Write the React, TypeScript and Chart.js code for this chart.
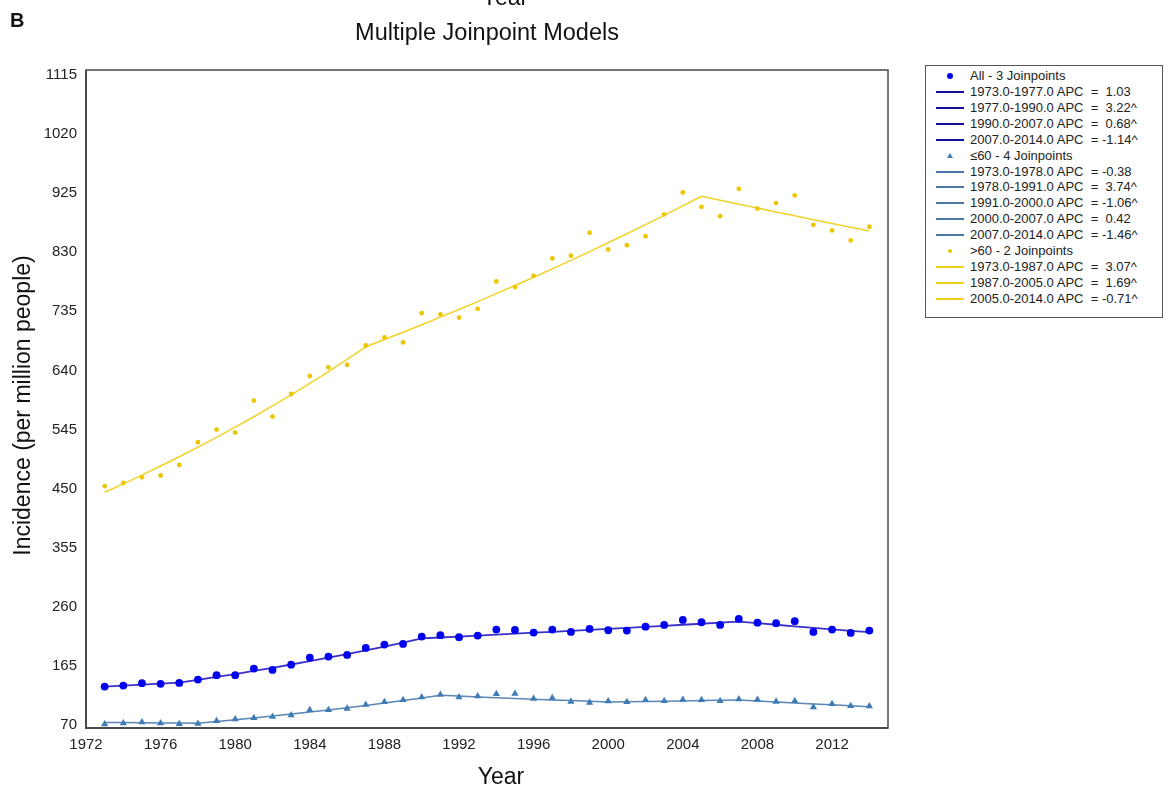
import React, { useEffect, useRef } from "react";
import { Chart, registerables } from "chart.js";

Chart.register(...registerables);

// ---------- data ----------
const years = [
  1973, 1974, 1975, 1976, 1977, 1978, 1979, 1980, 1981, 1982, 1983, 1984, 1985, 1986,
  1987, 1988, 1989, 1990, 1991, 1992, 1993, 1994, 1995, 1996, 1997, 1998, 1999, 2000,
  2001, 2002, 2003, 2004, 2005, 2006, 2007, 2008, 2009, 2010, 2011, 2012, 2013, 2014,
];

// observed incidence (per million)
const allObserved = [
  131.6, 133.2, 137.0, 136.0, 137.5, 142.8, 149.9, 149.9, 160.5, 158.4, 166.9, 178.2, 179.8, 182.5,
  193.8, 199.1, 200.2, 212.0, 214.2, 211.0, 213.6, 223.3, 222.7, 218.4, 223.3, 219.5, 224.3, 222.2,
  221.6, 228.0, 230.8, 238.8, 235.0, 230.8, 240.4, 234.4, 233.5, 236.7, 219.5, 223.3, 217.9, 221.6,
];
const le60Observed = [
  71.1, 72.7, 74.3, 72.7, 71.6, 72.1, 76.4, 79.1, 81.3, 83.3, 85.6, 94.1, 94.1, 96.3,
  102.6, 107.0, 110.2, 114.5, 118.7, 114.5, 116.1, 119.8, 120.3, 112.3, 113.4, 107.5, 105.9, 108.1,
  107.0, 110.2, 108.6, 110.7, 110.2, 108.6, 111.3, 110.7, 107.5, 108.6, 98.5, 103.8, 100.5, 100.0,
];
const gt60Observed = [
  454, 459, 468, 471, 488, 524.5, 544.8, 540, 591.4, 565.7, 602, 631, 645, 649,
  680, 693, 685, 732, 730, 725, 739, 783, 774, 792, 820, 824.5, 861.5, 834.5,
  841.3, 855.7, 891, 926, 903, 888, 932, 900, 909, 921.5, 874, 865, 849, 871,
];

// fitted joinpoint model values (per year)
const allFit = [
  131.5, 133.1, 134.7, 136.3, 138.0, 142.5, 147.1, 151.8, 156.8, 161.8, 167.1, 172.5, 178.1, 183.9,
  189.9, 196.0, 202.4, 209.0, 210.5, 212.0, 213.5, 215.1, 216.6, 218.2, 219.7, 221.3, 222.9, 224.5,
  226.1, 227.7, 229.3, 231.0, 232.6, 234.3, 236.0, 233.5, 231.0, 228.5, 226.1, 223.7, 221.3, 219.0,
];
const le60Fit = [
  74.0, 73.7, 73.4, 73.2, 72.9, 72.6, 75.3, 78.2, 81.1, 84.2, 87.4, 90.7, 94.1, 97.6,
  101.3, 105.1, 109.1, 113.2, 117.5, 116.3, 115.0, 113.8, 112.6, 111.4, 110.2, 109.1, 107.9, 106.8,
  107.3, 107.7, 108.2, 108.6, 109.1, 109.5, 110.0, 108.4, 106.8, 105.2, 103.7, 102.2, 100.7, 99.2,
];
const gt60Fit = [
  444.0, 457.6, 471.7, 486.2, 501.1, 516.5, 532.3, 548.7, 565.5, 582.9, 600.8, 619.2, 638.2, 657.8,
  678.0, 689.6, 701.4, 713.4, 725.6, 738.0, 750.6, 763.4, 776.5, 789.8, 803.3, 817.0, 831.0, 845.2,
  859.7, 874.4, 889.3, 904.5, 920.0, 913.6, 907.3, 901.0, 894.7, 888.5, 882.3, 876.2, 870.1, 864.0,
];

// joinpoint segments and APC labels
const allSegments = [[1973, 1977], [1977, 1990], [1990, 2007], [2007, 2014]];
const allApc = ["1.03", "3.22^", "0.68^", "-1.14^"];
const le60Segments = [[1973, 1978], [1978, 1991], [1991, 2000], [2000, 2007], [2007, 2014]];
const le60Apc = ["-0.38", "3.74^", "-1.06^", "0.42", "-1.46^"];
const gt60Segments = [[1973, 1987], [1987, 2005], [2005, 2014]];
const gt60Apc = ["3.07^", "1.69^", "-0.71^"];

const groupNames = ["All - 3 Joinpoints", "\u226460 - 4 Joinpoints", ">60 - 2 Joinpoints"];

const xTicks = [1972, 1976, 1980, 1984, 1988, 1992, 1996, 2000, 2004, 2008, 2012];
const yTicks = [70, 165, 260, 355, 450, 545, 640, 735, 830, 925, 1020, 1115];

// ---------- styling ----------
const FONT = '"Liberation Sans", Arial, Helvetica, sans-serif';
const C_ALL_PT = "#0000f0";
const C_ALL_LINE = "#3a30c8";
const C_ALL_LEG = "#101098";
const C_LE_PT = "#3f7cb6";
const C_LE_LINE = "#5a86b4";
const C_LE_LEG = "#4a78aa";
const C_GT_PT = "#ecc600";
const C_GT_LINE = "#f0d22a";
const C_GT_LEG = "#f0cf10";

const segLabel = (s: number[], apc: string) =>
  `${s[0]}.0-${s[1]}.0 APC  = ${apc.startsWith("-") ? "" : " "}${apc}`;

const groups = [
  { name: groupNames[0], obs: allObserved, fit: allFit, segs: allSegments, apc: allApc, pt: C_ALL_PT, line: C_ALL_LINE, leg: C_ALL_LEG, style: "circle", r: 3.9, lw: 1.8 },
  { name: groupNames[1], obs: le60Observed, fit: le60Fit, segs: le60Segments, apc: le60Apc, pt: C_LE_PT, line: C_LE_LINE, leg: C_LE_LEG, style: "triangle", r: 4.2, lw: 1.5 },
  { name: groupNames[2], obs: gt60Observed, fit: gt60Fit, segs: gt60Segments, apc: gt60Apc, pt: C_GT_PT, line: C_GT_LINE, leg: C_GT_LEG, style: "circle", r: 2.4, lw: 1.5 },
];

const framePlugin = {
  id: "frame",
  afterDraw(chart: any) {
    const { ctx, chartArea: a } = chart;
    ctx.save();
    ctx.strokeStyle = "#4a4a4a";
    ctx.lineWidth = 1.5;
    ctx.strokeRect(a.left, a.top, a.right - a.left, a.bottom - a.top);
    ctx.lineWidth = 2;
    ctx.beginPath();
    ctx.moveTo(a.left, a.top);
    ctx.lineTo(a.left, a.bottom);
    ctx.lineTo(a.right, a.bottom);
    ctx.stroke();
    ctx.restore();
  },
};

function Marker({ kind, color }: { kind: string; color: string }) {
  if (kind === "line") {
    return <div style={{ position: "absolute", left: 10, top: 7, width: 28, height: 2, background: color }} />;
  }
  if (kind === "triangle") {
    return (
      <div
        style={{
          position: "absolute", left: 21, top: 5, width: 0, height: 0,
          borderLeft: "3px solid transparent", borderRight: "3px solid transparent",
          borderBottom: `5px solid ${color}`,
        }}
      />
    );
  }
  const d = kind === "bigdot" ? 6 : 4;
  return (
    <div
      style={{
        position: "absolute", left: 24 - d / 2, top: 8 - d / 2, width: d, height: d,
        borderRadius: "50%", background: color,
      }}
    />
  );
}

export default function App() {
  const ref = useRef<HTMLCanvasElement>(null);

  useEffect(() => {
    if (!ref.current) return;
    const datasets: any[] = [];
    groups.forEach((g) => {
      datasets.push({
        label: g.name,
        data: years.map((y, i) => ({ x: y, y: g.obs[i] })),
        showLine: false,
        pointStyle: g.style,
        pointRadius: g.r,
        pointBackgroundColor: g.pt,
        pointBorderColor: g.pt,
        pointBorderWidth: 0,
        order: 0,
      });
      g.segs.forEach((s, k) => {
        const pts = years
          .map((y, i) => ({ x: y, y: g.fit[i] }))
          .filter((p) => p.x >= s[0] && p.x <= s[1]);
        datasets.push({
          label: segLabel(s, g.apc[k]),
          data: pts,
          showLine: true,
          borderColor: g.line,
          borderWidth: g.lw,
          pointRadius: 0,
          fill: false,
          tension: 0,
          order: 1,
        });
      });
    });

    const chart = new Chart(ref.current, {
      type: "scatter",
      data: { datasets },
      options: {
        animation: false,
        responsive: false,
        events: [],
        layout: { padding: { left: 0, right: 283, top: 70, bottom: 0 }, autoPadding: false },
        plugins: { legend: { display: false }, title: { display: false }, tooltip: { enabled: false } },
        scales: {
          x: {
            type: "linear",
            min: 1972,
            max: 2015,
            grid: { display: false, drawTicks: false },
            border: { display: false },
            afterBuildTicks: (axis: any) => {
              axis.ticks = xTicks.map((v) => ({ value: v }));
            },
            afterFit: (axis: any) => {
              axis.height = 62;
            },
            ticks: {
              padding: 8,
              color: "#222",
              font: { family: FONT, size: 15 },
              maxRotation: 0,
              autoSkip: false,
              callback: (v: any) => String(v),
            },
          },
          y: {
            type: "linear",
            min: 65,
            max: 1123,
            grid: { display: false, drawTicks: false },
            border: { display: false },
            afterBuildTicks: (axis: any) => {
              axis.ticks = yTicks.map((v) => ({ value: v }));
            },
            afterFit: (axis: any) => {
              axis.width = 86;
            },
            ticks: {
              padding: 9,
              color: "#222",
              font: { family: FONT, size: 15 },
              autoSkip: false,
              callback: (v: any) => String(v),
            },
          },
        },
      },
      plugins: [framePlugin],
    });
    return () => chart.destroy();
  }, []);

  const legendRows: { kind: string; color: string; text: string }[] = [];
  groups.forEach((g, gi) => {
    legendRows.push({ kind: gi === 0 ? "bigdot" : gi === 1 ? "triangle" : "dot", color: g.pt, text: g.name });
    g.segs.forEach((s, k) => legendRows.push({ kind: "line", color: g.leg, text: segLabel(s, g.apc[k]) }));
  });

  const textBase: React.CSSProperties = {
    position: "absolute",
    fontFamily: FONT,
    color: "#111",
    whiteSpace: "pre",
    lineHeight: "23px",
  };

  return (
    <div style={{ position: "absolute", left: 0, top: 0, width: 1171, height: 790, background: "#fff", overflow: "hidden" }}>
      <canvas ref={ref} width={1171} height={790} style={{ position: "absolute", left: 0, top: 0 }} />
      <div style={{ ...textBase, left: 10, top: 9, fontSize: 20, fontWeight: "bold", lineHeight: "23px" }}>B</div>
      <div style={{ ...textBase, left: 405, width: 200, textAlign: "center", top: -14, fontSize: 23 }}>Year</div>
      <div style={{ ...textBase, left: 287, width: 400, textAlign: "center", top: 21, fontSize: 23.5 }}>
        Multiple Joinpoint Models
      </div>
      <div style={{ ...textBase, left: 401, width: 200, textAlign: "center", top: 765, fontSize: 23 }}>Year</div>
      <div
        style={{
          ...textBase,
          left: 22 - 200,
          width: 400,
          textAlign: "center",
          top: 405 - 11.5,
          fontSize: 23,
          transform: "rotate(-90deg)",
          transformOrigin: "50% 50%",
        }}
      >
        Incidence (per million people)
      </div>
      <div
        style={{
          position: "absolute",
          left: 925,
          top: 65,
          width: 236,
          height: 249,
          border: "1.5px solid #555",
          background: "#fff",
          paddingTop: 2,
        }}
      >
        {legendRows.map((r, i) => (
          <div key={i} style={{ position: "relative", height: 15.93 }}>
            <Marker kind={r.kind} color={r.color} />
            <div
              style={{
                position: "absolute",
                left: 44,
                top: 0,
                fontFamily: FONT,
                fontSize: 13,
                lineHeight: "16px",
                color: "#222",
                whiteSpace: "pre",
              }}
            >
              {r.text}
            </div>
          </div>
        ))}
      </div>
    </div>
  );
}
